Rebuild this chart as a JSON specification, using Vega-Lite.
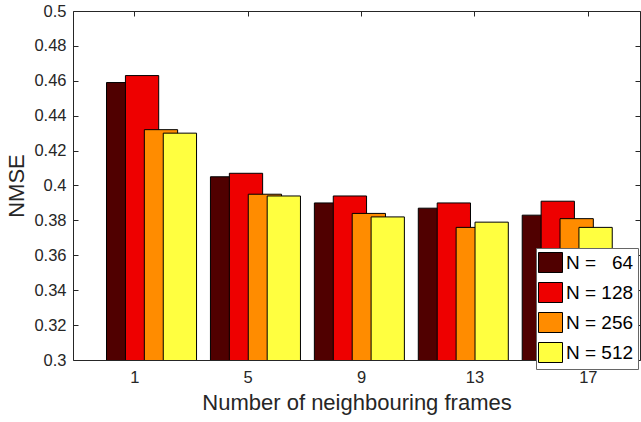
{
  "$schema": "https://vega.github.io/schema/vega-lite/v6.json",
  "width": 567,
  "height": 349,
  "autosize": {"type": "none"},
  "padding": {"left": 73, "top": 11, "right": 1, "bottom": 62},
  "background": "white",
  "config": {
    "font": "Liberation Sans",
    "view": {"stroke": null},
    "axis": {
      "domainColor": "#262626",
      "tickColor": "#262626",
      "labelColor": "#262626",
      "titleColor": "#262626",
      "labelFont": "Liberation Sans",
      "titleFont": "Liberation Sans",
      "titleFontWeight": "normal",
      "grid": false,
      "labelFontSize": 16.5,
      "titleFontSize": 22,
      "tickSize": -5,
      "domainWidth": 1,
      "tickWidth": 1
    }
  },
  "data": {
    "values": [
      {"frames": "1", "N": "N = \u00a0\u00a064", "nmse": 0.459},
      {"frames": "1", "N": "N = 128", "nmse": 0.463},
      {"frames": "1", "N": "N = 256", "nmse": 0.432},
      {"frames": "1", "N": "N = 512", "nmse": 0.430},
      {"frames": "5", "N": "N = \u00a0\u00a064", "nmse": 0.405},
      {"frames": "5", "N": "N = 128", "nmse": 0.407},
      {"frames": "5", "N": "N = 256", "nmse": 0.395},
      {"frames": "5", "N": "N = 512", "nmse": 0.394},
      {"frames": "9", "N": "N = \u00a0\u00a064", "nmse": 0.390},
      {"frames": "9", "N": "N = 128", "nmse": 0.394},
      {"frames": "9", "N": "N = 256", "nmse": 0.384},
      {"frames": "9", "N": "N = 512", "nmse": 0.382},
      {"frames": "13", "N": "N = \u00a0\u00a064", "nmse": 0.387},
      {"frames": "13", "N": "N = 128", "nmse": 0.390},
      {"frames": "13", "N": "N = 256", "nmse": 0.376},
      {"frames": "13", "N": "N = 512", "nmse": 0.379},
      {"frames": "17", "N": "N = \u00a0\u00a064", "nmse": 0.383},
      {"frames": "17", "N": "N = 128", "nmse": 0.391},
      {"frames": "17", "N": "N = 256", "nmse": 0.381},
      {"frames": "17", "N": "N = 512", "nmse": 0.376}
    ]
  },
  "layer": [
    {
      "mark": {"type": "bar", "stroke": "black", "strokeWidth": 1, "width": {"band": 1.76}, "clip": true},
      "encoding": {
        "x": {
          "field": "frames",
          "type": "nominal",
          "sort": null,
          "scale": {"domain": ["1", "5", "9", "13", "17"], "paddingInner": 0.272, "paddingOuter": 0.364, "align": 0.823},
          "axis": null
        },
        "xOffset": {
          "field": "N",
          "type": "nominal",
          "sort": null,
          "scale": {"domain": ["N = \u00a0\u00a064", "N = 128", "N = 256", "N = 512"], "paddingInner": 0, "paddingOuter": 0}
        },
        "y": {
          "field": "nmse",
          "type": "quantitative",
          "scale": {"domain": [0.3, 0.5], "nice": false, "zero": false},
          "axis": {"title": "NMSE", "values": [0.3, 0.32, 0.34, 0.36, 0.38, 0.4, 0.42, 0.44, 0.46, 0.48, 0.5], "format": ".2~f", "labelPadding": 12, "titlePadding": 5}
        },
        "color": {
          "field": "N",
          "type": "nominal",
          "scale": {"domain": ["N = \u00a0\u00a064", "N = 128", "N = 256", "N = 512"], "range": ["#500000", "#ee0000", "#ff8c00", "#ffff40"]},
          "legend": {
            "title": null,
            "orient": "none",
            "legendX": 463,
            "legendY": 237,
            "padding": 4,
            "fillColor": "white",
            "strokeColor": "#666666",
            "symbolType": "M-1.2,-1H1.2V1H-1.2Z",
            "symbolSize": 400,
            "symbolStrokeColor": "black",
            "symbolStrokeWidth": 1,
            "symbolOpacity": 1,
            "labelFont": "Liberation Sans",
            "labelFontSize": 19,
            "labelColor": "#000000",
            "labelOffset": 5,
            "rowPadding": 5
          }
        }
      }
    },
    {
      "mark": {"type": "point", "opacity": 0},
      "encoding": {
        "x": {
          "field": "frames",
          "type": "nominal",
          "sort": null,
          "scale": {"domain": ["1", "5", "9", "13", "17"], "paddingInner": 0.272, "paddingOuter": 0.364, "align": 0.54},
          "axis": {"title": "Number of neighbouring frames", "labelAngle": 0, "labelPadding": 14, "titlePadding": 7}
        },
        "y": {
          "field": "nmse",
          "type": "quantitative",
          "scale": {"domain": [0.3, 0.5], "nice": false, "zero": false},
          "axis": null
        }
      }
    },
    {
      "mark": {"type": "point", "opacity": 0},
      "encoding": {
        "x": {
          "field": "frames",
          "type": "nominal",
          "sort": null,
          "scale": {"domain": ["1", "5", "9", "13", "17"], "paddingInner": 0.272, "paddingOuter": 0.364, "align": 0.54},
          "axis": {"orient": "top", "labels": false, "title": null}
        },
        "y": {
          "field": "nmse",
          "type": "quantitative",
          "scale": {"domain": [0.3, 0.5], "nice": false, "zero": false},
          "axis": {"orient": "right", "labels": false, "title": null, "values": [0.3, 0.32, 0.34, 0.36, 0.38, 0.4, 0.42, 0.44, 0.46, 0.48, 0.5]}
        }
      }
    }
  ],
  "resolve": {"scale": {"x": "independent"}, "axis": {"x": "independent", "y": "independent"}}
}
